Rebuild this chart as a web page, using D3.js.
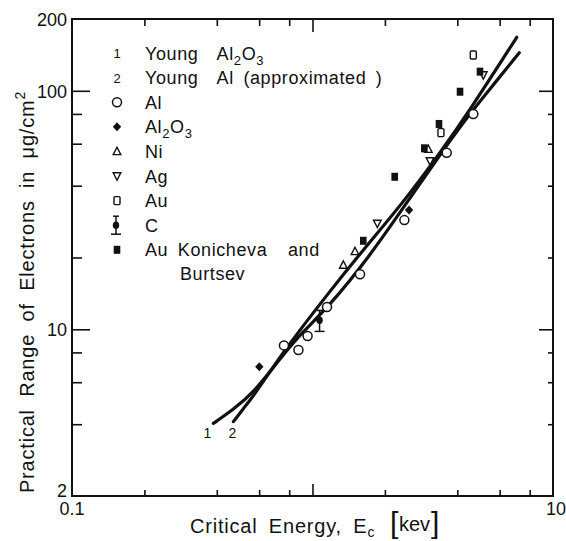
<!DOCTYPE html>
<html>
<head>
<meta charset="utf-8">
<script src="https://cdn.jsdelivr.net/npm/d3@7"></script>
<style>
  html, body { margin: 0; padding: 0; background: #fff; }
  svg text { font-family: "Liberation Sans", Arial, sans-serif; fill: #111; }
</style>
</head>
<body>
<svg id="chart" width="566" height="541"></svg>
<script>
// ---- Data: practical range (µg/cm²) against critical energy (keV) ----
const alE    = [0.761, 0.874, 0.954, 1.149, 1.576, 2.41, 3.614, 4.663];
const alR    = [8.56, 8.19, 9.37, 12.4, 17.0, 28.7, 55.0, 79.9];
const al2o3E = [0.601, 2.52];
const al2o3R = [6.97, 31.6];
const niE    = [1.343, 1.502, 3.03];
const niR    = [18.6, 21.2, 56.9];
const agE    = [1.86, 3.08, 5.13];
const agR    = [27.8, 50.8, 116.5];
const auE    = [3.42, 4.663];
const auR    = [66.8, 141.3];
const auKBE  = [1.626, 2.197, 2.917, 3.357, 4.106, 4.97];
const auKBR  = [23.5, 43.6, 57.4, 72.6, 99.1, 120.3];
const cE     = [1.07];
const cR     = [10.9];
const cLow   = [9.8];
const cHigh  = [12.0];

// Young's curves
const young1E = [0.387, 0.469, 0.567, 0.754, 0.887, 1.182, 1.718, 2.42, 3.39, 4.52, 5.74, 7.24];
const young1R = [4.03, 4.62, 5.39, 7.80, 9.5, 12.6, 20.1, 33.0, 54.0, 80.5, 108, 144.4];
const young2E = [0.469, 0.516, 0.567, 0.754, 1.146, 1.622, 2.378, 3.389, 4.517, 7.066];
const young2R = [4.10, 4.66, 5.22, 8.03, 13.9, 21.5, 33.9, 54.9, 83.1, 167.6];

// Axis ticks
const xMinorTicks = [0.2, 0.4, 0.6, 0.8, 2, 4, 6, 8];
const xMajorTicks = [1];
const yMinorTicks = [4, 6, 8, 20, 40, 60, 80];
const yMajorTicks = [10, 100];
const yTickLabels = [2, 10, 100, 200];
const xTickLabels = ["0.1", "10"];
const xTickLabelValues = [0.1, 10];

// Legend text (parts: [text, isSubscript])
const legendLabels = [
  [["Young  Al"], ["2", 1], ["O"], ["3", 1]],
  [["Young  Al (approximated )"]],
  [["Al"]],
  [["Al"], ["2", 1], ["O"], ["3", 1]],
  [["Ni"]],
  [["Ag"]],
  [["Au"]],
  [["C"]],
  [["Au Konicheva"]]
];
const legendKeys = ["one", "two", "circle", "diamond", "triUp", "triDown", "square", "cbar", "filledSquare"];

// ---- Chart ----
const svg = d3.select("#chart");
svg.append("rect").attr("width", 566).attr("height", 541).attr("fill", "#fff");

const x = d3.scaleLog().domain([0.1, 10]).range([72, 553]);
const y = d3.scaleLog().domain([2, 200]).range([496, 19]);

// Ticks (all pointing inward)
function ticks(axis, tx, ty) {
  const g = svg.append("g").attr("transform", `translate(${tx},${ty})`).call(axis);
  g.select(".domain").remove();
  g.selectAll(".tick line").attr("stroke", "#111").attr("stroke-width", 1.6);
  g.selectAll(".tick text").remove();
}
ticks(d3.axisBottom(x).tickValues(xMinorTicks).tickSize(-6), 0, 496);
ticks(d3.axisBottom(x).tickValues(xMajorTicks).tickSize(-12), 0, 496);
ticks(d3.axisTop(x).tickValues(xMinorTicks).tickSize(-7), 0, 19);
ticks(d3.axisTop(x).tickValues(xMajorTicks).tickSize(-13), 0, 19);
ticks(d3.axisLeft(y).tickValues(yMinorTicks).tickSize(-10), 72, 0);
ticks(d3.axisLeft(y).tickValues(yMajorTicks).tickSize(-18), 72, 0);
ticks(d3.axisRight(y).tickValues(yMinorTicks).tickSize(-5), 553, 0);
ticks(d3.axisRight(y).tickValues(yMajorTicks).tickSize(-14), 553, 0);

// Frame
svg.append("rect")
  .attr("x", x(0.1)).attr("y", y(200))
  .attr("width", x(10) - x(0.1)).attr("height", y(2) - y(200))
  .attr("fill", "none").attr("stroke", "#111").attr("stroke-width", 2);

// Tick labels
svg.selectAll("text.ylab").data(yTickLabels).enter().append("text")
  .attr("class", "ylab")
  .attr("x", 67)
  .attr("y", d => y(d) + (d === 2 ? 1 : 7))
  .attr("text-anchor", "end")
  .attr("font-size", 18)
  .text(d => d);
svg.selectAll("text.xlab").data(xTickLabels).enter().append("text")
  .attr("class", "xlab")
  .attr("x", (d, i) => x(xTickLabelValues[i]) + (i === 1 ? 3 : 0))
  .attr("y", 515)
  .attr("text-anchor", "middle")
  .attr("font-size", 18)
  .text(d => d);

// Axis titles
const yt = svg.append("text")
  .attr("transform", "translate(34,292) rotate(-90)")
  .attr("text-anchor", "middle")
  .attr("font-size", 20)
  .attr("letter-spacing", 0.8)
  .attr("word-spacing", 6);
yt.append("tspan").text("Practical Range of Electrons in \u03BCg/cm");
yt.append("tspan").attr("dy", -9).attr("font-size", 14).text("2");

const xt = svg.append("text")
  .attr("x", 190).attr("y", 533)
  .attr("font-size", 20)
  .attr("letter-spacing", 0.8)
  .attr("word-spacing", 5);
xt.append("tspan").text("Critical Energy, E");
xt.append("tspan").attr("dy", 4).attr("font-size", 14).text("c");
svg.append("text").attr("x", 390).attr("y", 533).attr("font-size", 30).text("[");
svg.append("text").attr("x", 399).attr("y", 531).attr("font-size", 20).text("kev");
svg.append("text").attr("x", 431).attr("y", 533).attr("font-size", 30).text("]");

// Curves
const line = d3.line().x(d => x(d[0])).y(d => y(d[1])).curve(d3.curveBasis);
[[young1E, young1R], [young2E, young2R]].forEach(([E, R]) => {
  svg.append("path")
    .datum(E.map((e, i) => [e, R[i]]))
    .attr("d", line)
    .attr("fill", "none").attr("stroke", "#111").attr("stroke-width", 3.2)
    .attr("stroke-linecap", "round");
});
svg.append("text").attr("x", x(young1E[0]) - 6).attr("y", 438)
  .attr("text-anchor", "middle").attr("font-size", 14).text("1");
svg.append("text").attr("x", x(young2E[0]) - 1).attr("y", 438)
  .attr("text-anchor", "middle").attr("font-size", 14).text("2");

// Marker drawing
function marker(g, kind, cx, cy) {
  const s = g.append("g").attr("transform", `translate(${cx},${cy})`);
  switch (kind) {
    case "circle":
      s.append("circle").attr("r", 4.5).attr("fill", "#fff").attr("stroke", "#111").attr("stroke-width", 1.5);
      break;
    case "diamond":
      s.append("path").attr("d", "M0,-4.5L4.2,0L0,4.5L-4.2,0Z").attr("fill", "#111");
      break;
    case "triUp":
      s.append("path").attr("d", "M0,-4.2L3.8,3.2L-3.8,3.2Z").attr("fill", "#fff").attr("stroke", "#111").attr("stroke-width", 1.4);
      break;
    case "triDown":
      s.append("path").attr("d", "M0,4.2L3.8,-3.2L-3.8,-3.2Z").attr("fill", "#fff").attr("stroke", "#111").attr("stroke-width", 1.4);
      break;
    case "square":
      s.append("rect").attr("x", -3).attr("y", -4).attr("width", 6).attr("height", 8)
        .attr("rx", 1).attr("fill", "#fff").attr("stroke", "#111").attr("stroke-width", 1.4);
      break;
    case "filledSquare":
      s.append("rect").attr("x", -3.3).attr("y", -4).attr("width", 6.6).attr("height", 8)
        .attr("fill", "#111");
      break;
  }
  return s;
}
function errorBar(g, cx, cy, yTop, yBottom) {
  g.append("line").attr("x1", cx).attr("x2", cx).attr("y1", yTop).attr("y2", yBottom)
    .attr("stroke", "#111").attr("stroke-width", 1.5);
  g.append("line").attr("x1", cx - 3).attr("x2", cx + 3).attr("y1", yTop).attr("y2", yTop)
    .attr("stroke", "#111").attr("stroke-width", 1.5);
  g.append("line").attr("x1", cx - 5).attr("x2", cx + 5).attr("y1", yBottom).attr("y2", yBottom)
    .attr("stroke", "#111").attr("stroke-width", 1.5);
  g.append("ellipse").attr("cx", cx).attr("cy", cy).attr("rx", 3.2).attr("ry", 3.8).attr("fill", "#111");
}

const pts = svg.append("g");
const series = [
  ["circle", alE, alR],
  ["diamond", al2o3E, al2o3R],
  ["triUp", niE, niR],
  ["triDown", agE, agR],
  ["square", auE, auR],
  ["filledSquare", auKBE, auKBR]
];
series.forEach(([kind, E, R]) => {
  E.forEach((e, i) => marker(pts, kind, x(e), y(R[i])));
});
cE.forEach((e, i) => errorBar(pts, x(e), y(cR[i]), y(cHigh[i]), y(cLow[i])));

// Legend
const leg = svg.append("g");
const symX = 117, textX = 145, row0 = 53, rowStep = 24.6;
legendLabels.forEach((parts, i) => {
  const cy = row0 + i * rowStep;
  const key = legendKeys[i];
  if (key === "one" || key === "two") {
    leg.append("text").attr("x", symX).attr("y", cy + 5).attr("text-anchor", "middle")
      .attr("font-size", 13).text(key === "one" ? "1" : "2");
  } else if (key === "cbar") {
    errorBar(leg, symX - 1, cy, cy - 9, cy + 9);
  } else {
    marker(leg, key, symX, cy);
  }
  const t = leg.append("text").attr("x", textX).attr("y", cy + 6.5)
    .attr("font-size", 18).attr("letter-spacing", 0.6).attr("word-spacing", 4)
    .style("white-space", "pre");
  let prevSub = false;
  parts.forEach(([str, sub]) => {
    const ts = t.append("tspan").text(str);
    if (sub) { ts.attr("dy", prevSub ? 0 : 5).attr("font-size", 13); }
    else if (prevSub) { ts.attr("dy", -5); }
    prevSub = !!sub;
  });
});
// continuation of the last legend entry
const lastY = row0 + (legendLabels.length - 1) * rowStep + 6.5;
leg.append("text").attr("x", 288).attr("y", lastY)
  .attr("font-size", 18).attr("letter-spacing", 0.6).text("and");
leg.append("text").attr("x", 180).attr("y", lastY + 23.5)
  .attr("font-size", 18).attr("letter-spacing", 0.6).text("Burtsev");
</script>
</body>
</html>
